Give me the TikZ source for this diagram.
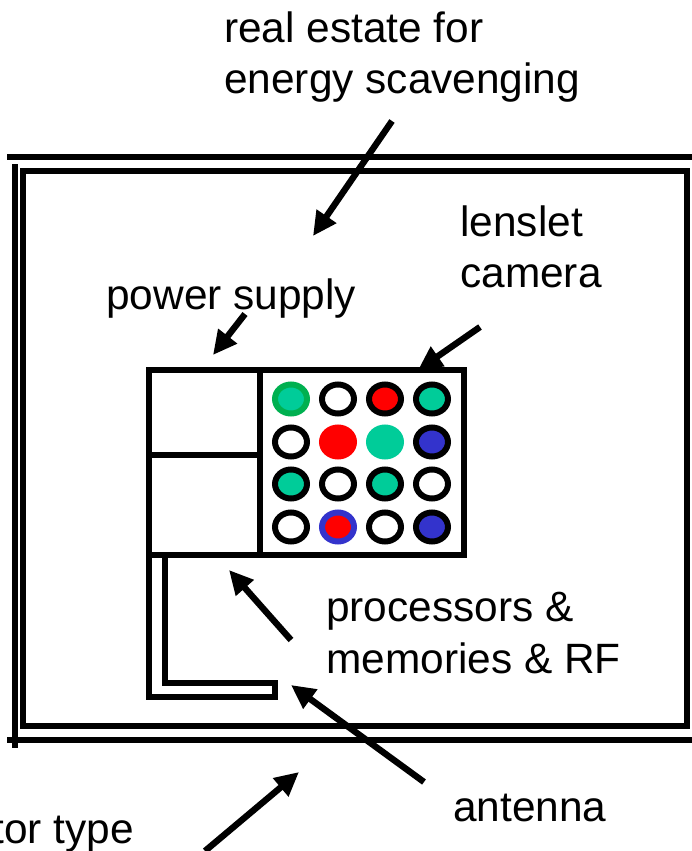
\documentclass[tikz,border=0pt]{standalone}
\usepackage{fontspec}
\setmainfont{Liberation Sans}
\usetikzlibrary{arrows.meta,shapes.geometric}
\definecolor{tealc}{HTML}{00CC99}
\definecolor{greenc}{HTML}{00B050}
\definecolor{redc}{HTML}{FF0000}
\definecolor{bluec}{HTML}{3333CC}
\tikzset{
  wall/.style={line width=4.8pt,line cap=butt,line join=miter},
  pointer/.style={line width=4.8pt,-{Triangle[length=18pt,width=17pt]}},
  lbl/.style={font=\fontsize{31.8pt}{38pt}\selectfont,anchor=base west,inner sep=0pt,text=black},
  dot/.style={ellipse,line width=4.5pt,minimum width=24pt,minimum height=21.75pt,inner sep=0pt},
}
\begin{document}
\begin{tikzpicture}[x=0.75pt,y=-0.75pt]
\useasboundingbox (0,0) rectangle (692,851);
% package walls
\draw[wall] (7,157) -- (692,157);
\draw[wall] (7,740) -- (692,740);
\draw[wall] (15,164) -- (15,748);
\draw[wall] (23,726) -- (23,171) -- (687,171) -- (687,726) -- cycle;
% chip blocks
\draw[wall] (149,370) rectangle (260,455);
\draw[wall] (149,455) rectangle (260,555);
\draw[wall] (260,370) rectangle (464,555);
% antenna
\draw[wall] (149,555) -- (149,697) -- (275,697) -- (275,683) -- (165,683) -- (165,555);
% lenslets
\node[dot,draw=greenc,fill=tealc] (c11) at (291,399) {};
\node[dot,draw=black,fill=white] (c12) at (338,399) {};
\node[dot,draw=black,fill=redc] (c13) at (385,399) {};
\node[dot,draw=black,fill=tealc] (c14) at (432,399) {};
\node[dot,draw=black,fill=white] (c21) at (291,442) {};
\node[dot,draw=redc,fill=redc] (c22) at (338,442) {};
\node[dot,draw=tealc,fill=tealc] (c23) at (385,442) {};
\node[dot,draw=black,fill=bluec] (c24) at (432,442) {};
\node[dot,draw=black,fill=tealc] (c31) at (291,484) {};
\node[dot,draw=black,fill=white] (c32) at (338,484) {};
\node[dot,draw=black,fill=tealc] (c33) at (385,484) {};
\node[dot,draw=black,fill=white] (c34) at (432,484) {};
\node[dot,draw=black,fill=white] (c41) at (291,527) {};
\node[dot,draw=bluec,fill=redc] (c42) at (338,527) {};
\node[dot,draw=black,fill=white] (c43) at (385,527) {};
\node[dot,draw=black,fill=bluec] (c44) at (432,527) {};
% labels
\node[lbl] (t1) at (224,42) {real estate for};
\node[lbl] (t2) at (224,93) {energy scavenging};
\node[lbl] (t3) at (460,236) {lenslet};
\node[lbl] (t4) at (460,287) {camera};
\node[lbl] (t5) at (106,309) {power supply};
\node[lbl] (t6) at (326,621) {processors \&};
\node[lbl] (t7) at (326,673) {memories \& RF};
\node[lbl] (t8) at (453,821) {antenna};
\node[lbl,anchor=base east] (t9) at (134,843) {tor type};
% arrow ends
\coordinate (a1s) at (392,121); \coordinate (a1e) at (313,236);
\coordinate (a2s) at (245,314); \coordinate (a2e) at (213,355);
\coordinate (a3s) at (480,327); \coordinate (a3e) at (418,370);
\coordinate (a4s) at (291,640); \coordinate (a4e) at (229,570);
\coordinate (a5s) at (424,782); \coordinate (a5e) at (291,685);
\coordinate (a6s) at (205,851); \coordinate (a6e) at (299,772);
\draw[pointer] (a1s) -- (a1e);
\draw[pointer] (a2s) -- (a2e);
\draw[pointer] (a3s) -- (a3e);
\draw[pointer] (a4s) -- (a4e);
\draw[pointer] (a5s) -- (a5e);
\draw[pointer] (a6s) -- (a6e);
\end{tikzpicture}
\end{document}
